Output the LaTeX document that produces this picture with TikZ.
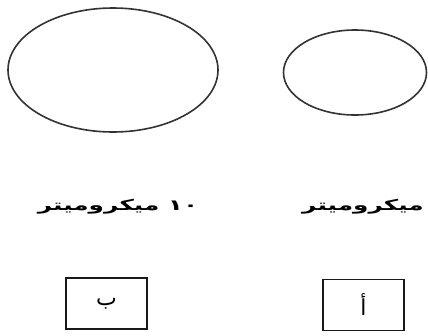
\documentclass[tikz,border=0pt]{standalone}
\usepackage{fontspec}
\usepackage{graphicx}
\TeXXeTstate=1
\newfontfamily\arabicfont[Script=Arabic]{DejaVu Sans}
\tikzset{
  cell/.style={draw=black!80, line width=1.6pt},
  lbl/.style={font=\arabicfont\bfseries\fontsize{15}{17}\selectfont, inner sep=0pt},
  letterbox/.style={draw=black!90, line width=1.9pt, minimum width=81pt, minimum height=51pt, inner sep=0pt, font=\arabicfont\fontsize{22}{24}\selectfont}
}
\begin{document}
\begin{tikzpicture}[x=1pt,y=-1pt]
\useasboundingbox (0,0) rectangle (428,335);
\draw[cell] (113,70) ellipse [x radius=105, y radius=62];
\draw[cell] (355,72.5) ellipse [x radius=71.5, y radius=42.5];
\node[lbl] (t1) at (118,207) {\scalebox{1.65}[1]{\beginR\beginL ١٠\endL{} ميكروميتر\endR}};
\node[lbl] (t2) at (363,207) {\scalebox{1.65}[1]{\beginR ميكروميتر\endR}};
\node[letterbox] (b) at (106.5,303.5) {\beginR ب\endR};
\node[letterbox] (a) at (363.5,305) {\beginR أ\endR};
\end{tikzpicture}
\end{document}
